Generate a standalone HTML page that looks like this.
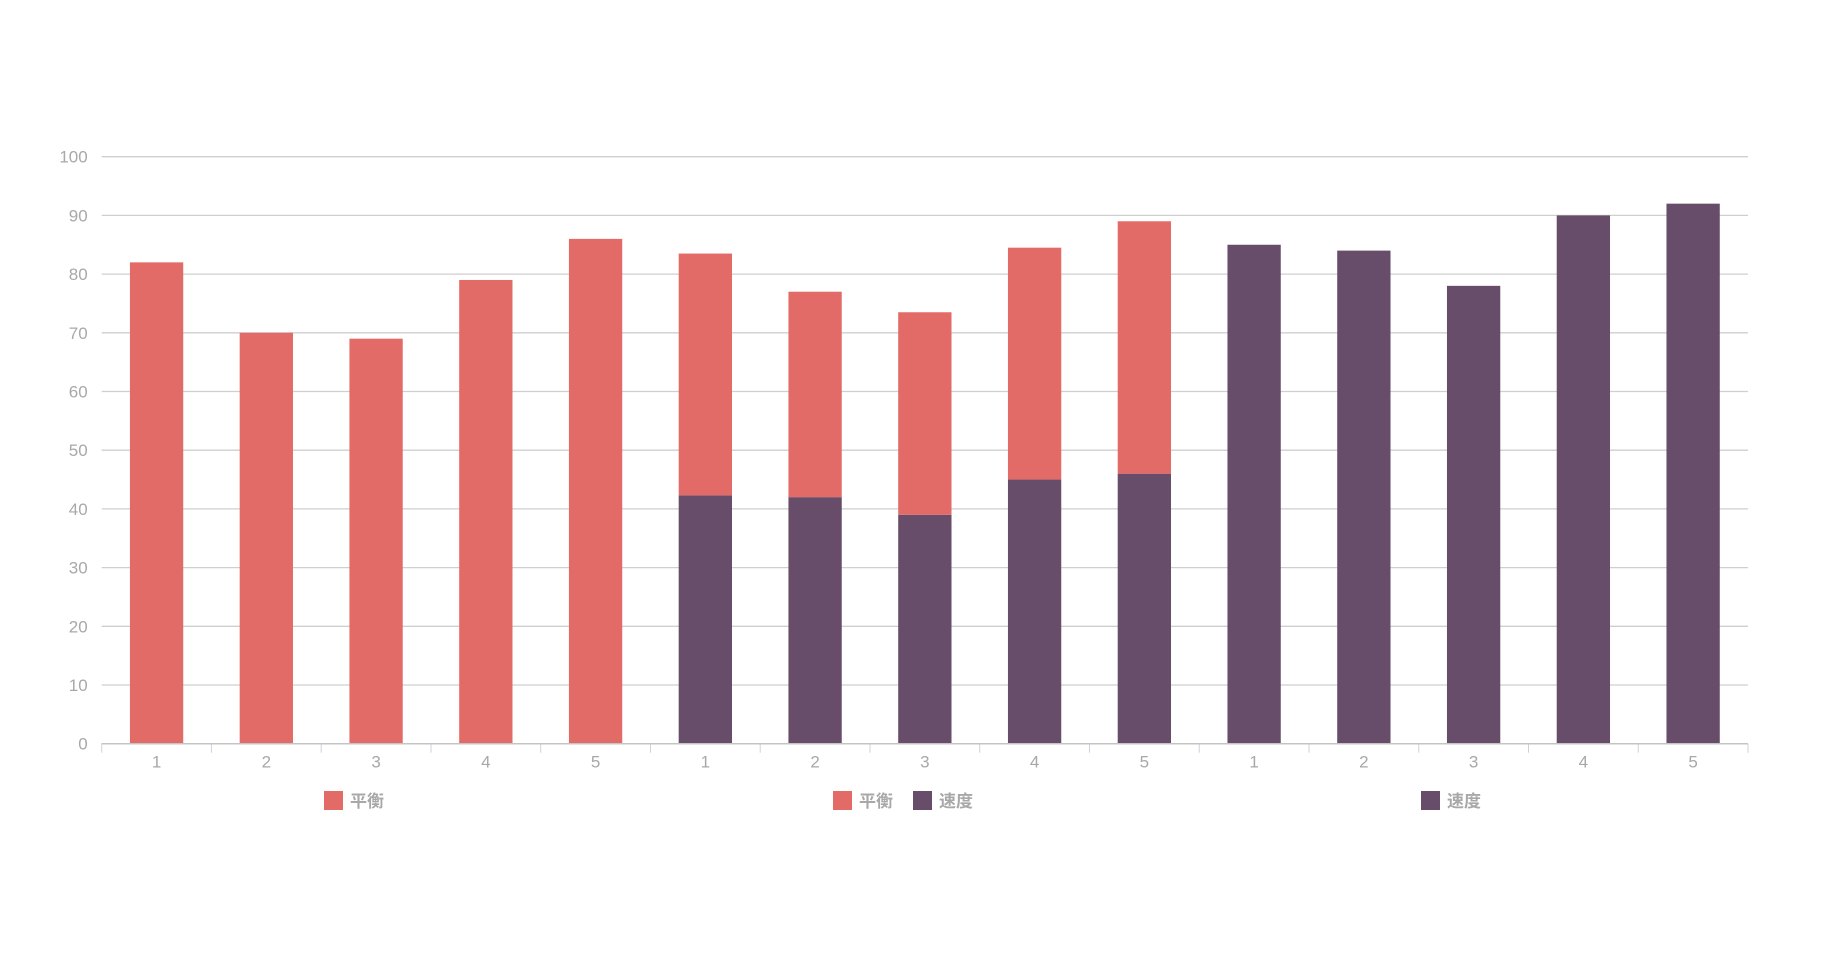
<!DOCTYPE html>
<html><head><meta charset="utf-8"><style>
html,body{margin:0;padding:0;background:#fff;}
svg{display:block;font-family:"Liberation Sans","Noto Sans CJK SC",sans-serif;}
</style></head><body>
<svg id="chart" width="1830" height="958" viewBox="0 0 1830 958"></svg>
<script>
const categories = ["1","2","3","4","5","1","2","3","4","5","1","2","3","4","5"];
const balanceValues = [82,70,69,79,86,41.2,35,34.5,39.5,43,0,0,0,0,0];
const speedValues = [0,0,0,0,0,42.3,42,39,45,46,85,84,78,90,92];
const yTicks = [0,10,20,30,40,50,60,70,80,90,100];

const NS="http://www.w3.org/2000/svg";
const svg=document.getElementById('chart');
const L=101.7,R=1748,T=156.7,B=743.7,yMax=100;
const band=(R-L)/categories.length, bw=53.3;
const y=v=>B-(v/yMax)*(B-T);
const xc=i=>L+band*(i+0.5);
function mk(tag,attrs){const e=document.createElementNS(NS,tag);for(const k in attrs)e.setAttribute(k,attrs[k]);svg.appendChild(e);return e;}

yTicks.forEach(t=>{
  const g=mk('line',{x1:L,x2:R,y1:y(t),y2:y(t),stroke:'#cfcfcf','stroke-width':1.3});
  
  
  const tx=mk('text',{x:L-14,y:y(t)+6,'text-anchor':'end','font-size':17,fill:'#a8a8a8'});
  tx.textContent=t;
  
  
});
for(let i=0;i<=categories.length;i++){
  const tk=mk('line',{x1:L+band*i,x2:L+band*i,y1:B,y2:B+9,stroke:'#c9d3e0','stroke-width':1});
  
  
}
categories.forEach((c,i)=>{
  const tx=mk('text',{x:xc(i),y:B+24,'text-anchor':'middle','font-size':17,fill:'#a8a8a8'});
  tx.textContent=c;
  
  
  const s=speedValues[i], b=balanceValues[i];
  if(s>0){
    const r=mk('rect',{x:xc(i)-bw/2,y:y(s),width:bw,height:B-y(s),fill:'#674d6a'});
    
    
  }
  if(b>0){
    const r=mk('rect',{x:xc(i)-bw/2,y:y(s+b),width:bw,height:y(s)-y(s+b),fill:'#e26b67'});
    
    
  }
});
const ax=mk('line',{x1:L,x2:R,y1:B,y2:B,stroke:'#c4c4c4','stroke-width':1.5});



const legend=[[324,'平衡','#e26b67'],[833,'平衡','#e26b67'],[913,'速度','#674d6a'],[1421,'速度','#674d6a']];
legend.forEach(([x,t,c])=>{
  const r=mk('rect',{x:x,y:791,width:19,height:19,fill:c});
  
  
  const tx=mk('text',{x:x+26,y:807,'font-size':17,fill:'#a8a8a8','font-weight':'bold'});
  tx.textContent=t;
  
  
});
</script>
</body></html>
